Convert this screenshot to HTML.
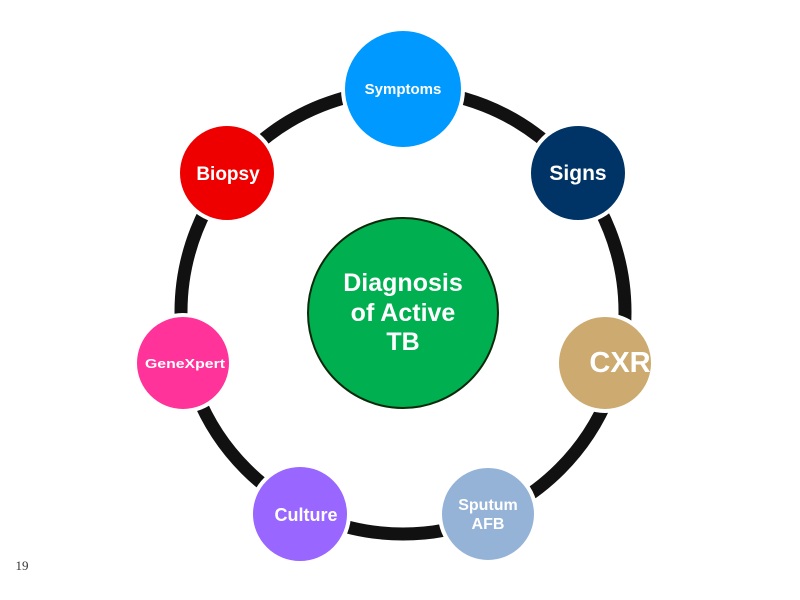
<!DOCTYPE html>
<html><head><meta charset="utf-8"><style>
html,body{margin:0;padding:0;background:#fff;}
svg{display:block;}
text{font-family:"Liberation Sans",sans-serif;font-weight:bold;fill:#fff;text-anchor:middle;}
</style></head><body>
<svg width="800" height="600" viewBox="0 0 800 600" xmlns="http://www.w3.org/2000/svg">
<rect width="800" height="600" fill="#fff"/>
<circle cx="403" cy="312" r="222" fill="none" stroke="#111" stroke-width="13"/>
<g stroke="#fff" stroke-width="4">
<circle cx="403" cy="89" r="60" fill="#0099ff"/>
<circle cx="227" cy="173" r="49" fill="#ee0000"/>
<circle cx="578" cy="173" r="49" fill="#003366"/>
<circle cx="183" cy="363" r="48" fill="#ff3399"/>
<circle cx="605" cy="363" r="48" fill="#ccaa70"/>
<circle cx="300" cy="514" r="49" fill="#9966ff"/>
<circle cx="488" cy="514" r="48" fill="#95b3d7"/>
</g>
<circle cx="403" cy="313" r="95" fill="#00b050" stroke="#0a2a0a" stroke-width="2"/>
<text x="403" y="94" font-size="15">Symptoms</text>
<text x="228" y="180" font-size="19">Biopsy</text>
<text x="578" y="180" font-size="21">Signs</text>
<text x="403" y="291" font-size="25">Diagnosis</text>
<text x="403" y="321" font-size="25">of Active</text>
<text x="403" y="350" font-size="25">TB</text>
<text x="185" y="368" font-size="13" textLength="80" lengthAdjust="spacingAndGlyphs">GeneXpert</text>
<text x="620" y="372" font-size="29">CXR</text>
<text x="306" y="521" font-size="18">Culture</text>
<text x="488" y="510" font-size="16">Sputum</text>
<text x="488" y="529" font-size="16">AFB</text>
<text x="22" y="570" font-size="13" style="font-family:'Liberation Serif',serif;font-weight:normal;fill:#333">19</text>
</svg>
</body></html>
